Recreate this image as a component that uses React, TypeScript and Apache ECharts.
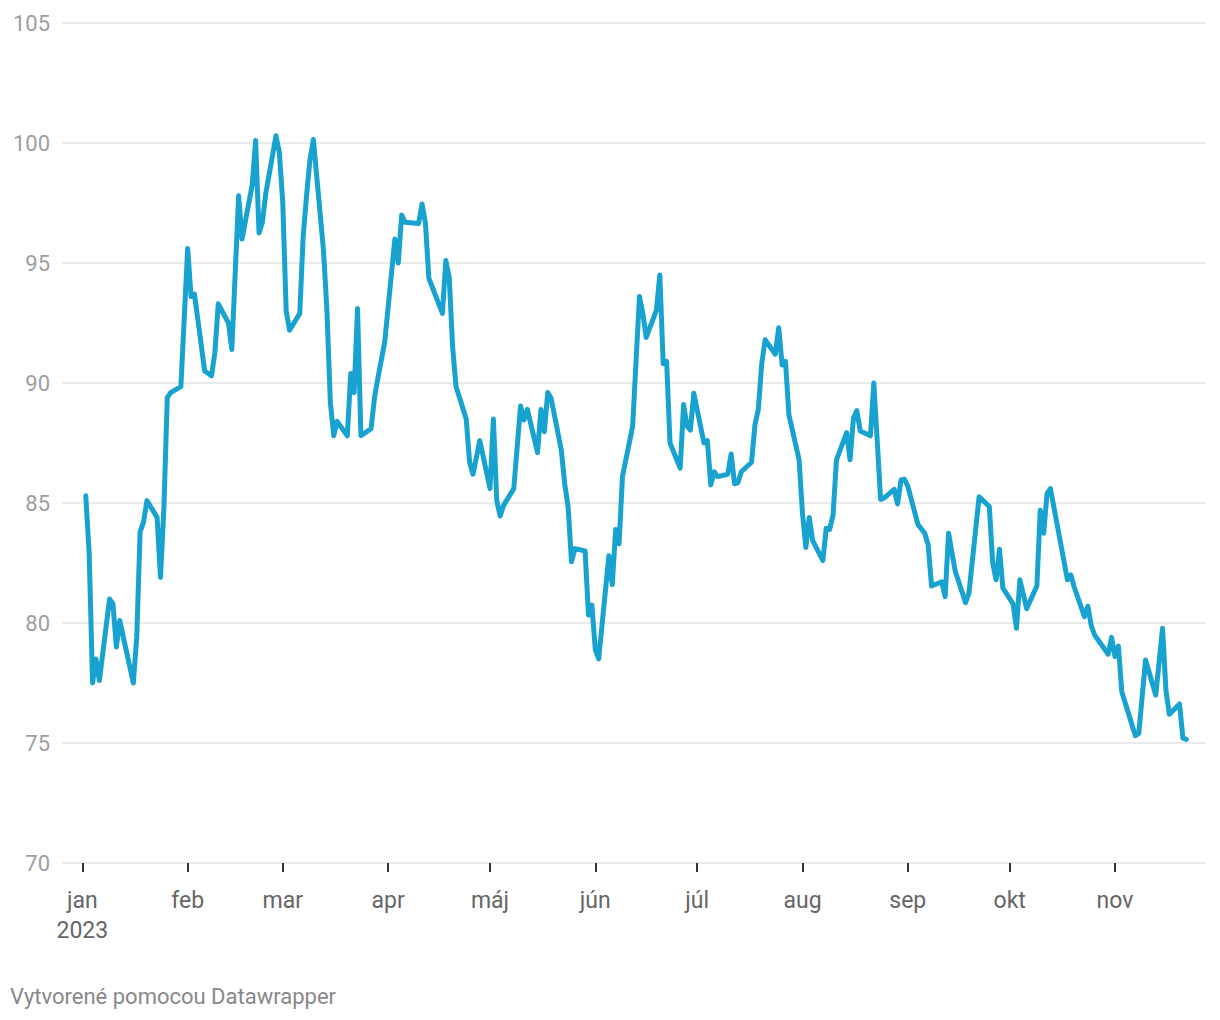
import React, { useEffect, useRef } from "react";
import * as echarts from "echarts";

const dates: string[] = [
  "2023-01-02","2023-01-03","2023-01-04","2023-01-05","2023-01-06","2023-01-09","2023-01-10","2023-01-11","2023-01-12","2023-01-16",
  "2023-01-17","2023-01-18","2023-01-19","2023-01-20","2023-01-23","2023-01-24","2023-01-25","2023-01-26","2023-01-27","2023-01-30",
  "2023-02-01","2023-02-02","2023-02-03","2023-02-06","2023-02-08","2023-02-09","2023-02-10","2023-02-13","2023-02-14","2023-02-16",
  "2023-02-17","2023-02-20","2023-02-21","2023-02-22","2023-02-23","2023-02-24","2023-02-27","2023-02-28",
  "2023-03-01","2023-03-02","2023-03-03","2023-03-06","2023-03-07","2023-03-08","2023-03-09","2023-03-10","2023-03-13","2023-03-14",
  "2023-03-15","2023-03-16","2023-03-17","2023-03-20","2023-03-21","2023-03-22","2023-03-23","2023-03-24","2023-03-27","2023-03-28",
  "2023-03-29","2023-03-31",
  "2023-04-03","2023-04-04","2023-04-05","2023-04-06","2023-04-10","2023-04-11","2023-04-12","2023-04-13","2023-04-14","2023-04-17",
  "2023-04-18","2023-04-19","2023-04-20","2023-04-21","2023-04-24","2023-04-25","2023-04-26","2023-04-28",
  "2023-05-01","2023-05-02","2023-05-03","2023-05-04","2023-05-05","2023-05-08","2023-05-10","2023-05-11","2023-05-12","2023-05-15",
  "2023-05-16","2023-05-17","2023-05-18","2023-05-19","2023-05-22","2023-05-23","2023-05-24","2023-05-25","2023-05-26","2023-05-29",
  "2023-05-30","2023-05-31",
  "2023-06-01","2023-06-02","2023-06-05","2023-06-06","2023-06-07","2023-06-08","2023-06-09","2023-06-12","2023-06-14","2023-06-15",
  "2023-06-16","2023-06-19","2023-06-20","2023-06-21","2023-06-22","2023-06-23","2023-06-26","2023-06-27","2023-06-28","2023-06-29",
  "2023-06-30",
  "2023-07-03","2023-07-04","2023-07-05","2023-07-06","2023-07-07","2023-07-10","2023-07-11","2023-07-12","2023-07-13","2023-07-14",
  "2023-07-17","2023-07-18","2023-07-19","2023-07-20","2023-07-21","2023-07-24","2023-07-25","2023-07-26","2023-07-27","2023-07-28",
  "2023-07-31",
  "2023-08-01","2023-08-02","2023-08-03","2023-08-04","2023-08-07","2023-08-08","2023-08-09","2023-08-10","2023-08-11","2023-08-14",
  "2023-08-15","2023-08-16","2023-08-17","2023-08-18","2023-08-21","2023-08-22","2023-08-23","2023-08-24","2023-08-25","2023-08-28",
  "2023-08-29","2023-08-30","2023-08-31",
  "2023-09-01","2023-09-04","2023-09-06","2023-09-07","2023-09-08","2023-09-11","2023-09-12","2023-09-13","2023-09-15","2023-09-18",
  "2023-09-19","2023-09-22","2023-09-25","2023-09-26","2023-09-27","2023-09-28","2023-09-29",
  "2023-10-02","2023-10-03","2023-10-04","2023-10-06","2023-10-09","2023-10-10","2023-10-11","2023-10-12","2023-10-13","2023-10-18",
  "2023-10-19","2023-10-20","2023-10-23","2023-10-24","2023-10-25","2023-10-26","2023-10-30","2023-10-31",
  "2023-11-01","2023-11-02","2023-11-03","2023-11-07","2023-11-08","2023-11-10","2023-11-13","2023-11-15","2023-11-16","2023-11-17",
  "2023-11-20","2023-11-21","2023-11-22",
];

const values: number[] = [
  85.3, 82.9, 77.5, 78.5, 77.6, 81.0, 80.8, 79.0, 80.1, 77.5,
  79.4, 83.8, 84.2, 85.1, 84.4, 81.9, 84.8, 89.4, 89.6, 89.85,
  95.6, 93.6, 93.7, 90.5, 90.3, 91.25, 93.3, 92.5, 91.4, 97.8,
  96.0, 98.25, 100.1, 96.25, 96.7, 97.9, 100.3, 99.6,
  97.5, 93.0, 92.2, 92.9, 96.1, 97.8, 99.3, 100.15, 95.5, 93.0,
  89.2, 87.8, 88.4, 87.8, 90.4, 89.6, 93.1, 87.8, 88.1, 89.4,
  90.2, 91.7,
  96.0, 95.0, 97.0, 96.7, 96.65, 97.46, 96.65, 94.36, 94.0, 92.9,
  95.1, 94.4, 91.5, 89.85, 88.5, 86.7, 86.2, 87.6,
  85.6, 88.5, 85.1, 84.46, 84.9, 85.6, 89.04, 88.46, 88.9, 87.1,
  88.9, 87.97, 89.6, 89.36, 87.2, 85.8, 84.85, 82.55, 83.1, 83.0,
  80.33, 80.75,
  78.9, 78.5, 82.8, 81.6, 83.9, 83.3, 86.1, 88.2, 93.6, 92.9,
  91.9, 93.04, 94.5, 90.8, 90.9, 87.5, 86.45, 89.1, 88.2, 88.04,
  89.57,
  87.5, 87.6, 85.75, 86.3, 86.1, 86.2, 87.04, 85.8, 85.85, 86.3,
  86.7, 88.25, 88.9, 90.8, 91.8, 91.2, 92.3, 90.75, 90.9, 88.67,
  86.8,
  84.57, 83.15, 84.4, 83.43, 82.6, 83.95, 83.9, 84.5, 86.8, 87.93,
  86.8, 88.53, 88.85, 88.0, 87.8, 90.0, 87.6, 85.15, 85.2, 85.57,
  84.96, 85.96, 85.99,
  85.7, 84.1, 83.74, 83.25, 81.54, 81.72, 81.1, 83.74, 82.14, 80.85,
  81.24, 85.26, 84.85, 82.5, 81.8, 83.07, 81.45,
  80.8, 79.78, 81.8, 80.6, 81.54, 84.7, 83.74, 85.4, 85.6, 81.8,
  82.0, 81.5, 80.26, 80.7, 79.9, 79.5, 78.7, 79.4,
  78.6, 79.04, 77.14, 75.3, 75.4, 78.46, 77.0, 79.78, 77.2, 76.2,
  76.625, 75.2, 75.15,
];

const monthLabels: string[] = ["jan", "feb", "mar", "apr", "máj", "jún", "júl", "aug", "sep", "okt", "nov"];
const yearLabel = "2023";
const yTicks = { min: 70, max: 105, interval: 5 };
const footerText = "Vytvorené pomocou Datawrapper";

function toTs(s: string): number {
  const [y, m, d] = s.split("-").map(Number);
  return new Date(y, m - 1, d).getTime();
}

export default function App() {
  const ref = useRef<HTMLDivElement>(null);

  useEffect(() => {
    document.body.style.margin = "0";
    if (!ref.current) return;
    const chart = echarts.init(ref.current, undefined, { renderer: "svg" });
    const monthTs = monthLabels.map((_, i) => new Date(2023, i, 1).getTime());
    const seriesData = dates.map((d, i) => [toTs(d), values[i]]);

    chart.setOption({
      animation: false,
      backgroundColor: "#ffffff",
      textStyle: { fontFamily: "Roboto" },
      grid: { left: 62, right: 15, top: 23, bottom: 157, containLabel: false },
      xAxis: {
        type: "value",
        scale: true,
        min: new Date(2022, 11, 26).getTime(),
        max: new Date(2023, 10, 27, 12).getTime(),
        axisLine: { show: false },
        splitLine: { show: false },
        axisTick: {
          show: true,
          customValues: monthTs,
          length: 9,
          lineStyle: { color: "#333333", width: 2 },
        },
        axisLabel: {
          customValues: monthTs,
          margin: 22,
          fontSize: 23,
          lineHeight: 30,
          color: "#666666",
          fontFamily: "Roboto",
          showMinLabel: true,
          showMaxLabel: true,
          hideOverlap: false,
          formatter: (v: number) => {
            const m = new Date(v).getMonth();
            return m === 0 ? monthLabels[m] + "\n" + yearLabel : monthLabels[m];
          },
        },
      },
      yAxis: {
        type: "value",
        min: yTicks.min,
        max: yTicks.max,
        interval: yTicks.interval,
        axisLine: { show: false },
        axisTick: { show: false },
        axisLabel: { margin: 12, fontSize: 22, color: "#9e9e9e", fontFamily: "Roboto" },
        splitLine: { show: true, lineStyle: { color: "#e3e3e3", width: 1.5 } },
      },
      series: [
        {
          type: "line",
          data: seriesData,
          showSymbol: false,
          symbol: "none",
          lineStyle: { color: "#18a2cf", width: 5, join: "round", cap: "round" },
          itemStyle: { color: "#18a2cf" },
        },
      ],
      graphic: [
        {
          type: "text",
          left: 10,
          top: 985,
          style: { text: footerText, fontSize: 22, fill: "#888888", fontFamily: "Roboto" },
        },
      ],
    });

    return () => chart.dispose();
  }, []);

  return <div ref={ref} style={{ width: 1220, height: 1020 }} />;
}
